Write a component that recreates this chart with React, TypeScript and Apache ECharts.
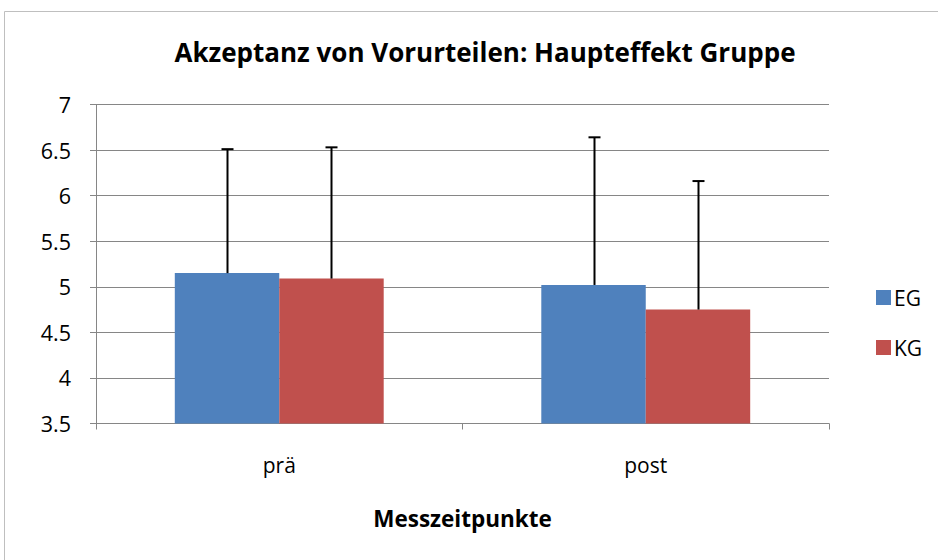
import React, { useEffect, useRef } from "react";
import * as echarts from "echarts";

const categories = ["prä", "post"];
const seriesNames = ["EG", "KG"];
const egMeans = [5.15, 5.02];
const kgMeans = [5.09, 4.75];
const egUpper = [6.51, 6.64];
const kgUpper = [6.53, 6.16];
const yTicks = [3.5, 4, 4.5, 5, 5.5, 6, 6.5, 7];

const COLORS = ["#4F81BD", "#C0504D"];
const BAR_CAT_GAP = 0.43;
const FONT = "'Open Sans', Lato, sans-serif";

export default function App() {
  const ref = useRef<HTMLDivElement>(null);
  useEffect(() => {
    document.body.style.margin = "0";
    if (!ref.current) return;
    const chart = echarts.init(ref.current, undefined, { renderer: "svg" });
    const means = [egMeans, kgMeans];
    const uppers = [egUpper, kgUpper];
    const errData: number[][] = [];
    for (let s = 0; s < 2; s++) {
      for (let c = 0; c < categories.length; c++) {
        errData.push([c, means[s][c], uppers[s][c], s]);
      }
    }
    chart.setOption({
      animation: false,
      textStyle: { fontFamily: FONT },
      graphic: [
        {
          type: "rect",
          shape: { x: 4.5, y: 11.5, width: 960, height: 600 },
          style: { fill: "none", stroke: "#BFBFBF", lineWidth: 1 },
          silent: true,
          z: -10,
        },
      ],
      title: {
        text: "Akzeptanz von Vorurteilen: Haupteffekt Gruppe",
        left: 480,
        textAlign: "center",
        top: 34,
        textStyle: { fontFamily: FONT, fontWeight: "bold", fontSize: 26, color: "#000" },
      },
      legend: {
        orient: "vertical",
        left: 871,
        top: 282,
        itemWidth: 15,
        itemHeight: 15,
        itemGap: 29,
        icon: "rect",
        data: seriesNames,
        textStyle: { fontFamily: FONT, fontSize: 21, lineHeight: 15, color: "#000", padding: [0, 0, 0, -2] },
      },
      grid: { left: 96, right: 109, top: 104.5, bottom: 136.5 },
      xAxis: {
        type: "category",
        data: categories,
        name: "Messzeitpunkte",
        nameLocation: "middle",
        nameGap: 83,
        nameTextStyle: { fontFamily: FONT, fontWeight: "bold", fontSize: 22.5, color: "#000" },
        axisLine: { lineStyle: { color: "#868686", width: 1 } },
        axisTick: { show: true, length: 6, lineStyle: { color: "#868686" } },
        axisLabel: { fontFamily: FONT, fontSize: 21, color: "#000", margin: 31 },
      },
      yAxis: {
        type: "value",
        min: 3.5,
        max: 7,
        interval: 0.5,
        axisLine: { show: true, lineStyle: { color: "#868686", width: 1 } },
        axisTick: { show: true, length: 6, lineStyle: { color: "#868686" } },
        axisLabel: {
          fontFamily: FONT,
          fontSize: 21.5,
          color: "#000",
          margin: 25,
          formatter: (v: number) => (yTicks.includes(v) ? String(v) : ""),
        },
        splitLine: { lineStyle: { color: "#868686", width: 1 } },
      },
      series: [
        {
          name: "EG",
          type: "bar",
          data: egMeans,
          itemStyle: { color: COLORS[0] },
          barGap: "0%",
          barCategoryGap: `${BAR_CAT_GAP * 100}%`,
        },
        {
          name: "KG",
          type: "bar",
          data: kgMeans,
          itemStyle: { color: COLORS[1] },
          barGap: "0%",
          barCategoryGap: `${BAR_CAT_GAP * 100}%`,
        },
        {
          type: "custom",
          data: errData,
          z: 10,
          renderItem: (params: any, api: any) => {
            const c = api.value(0);
            const s = api.value(3);
            const base = api.coord([c, api.value(1)]);
            const top = api.coord([c, api.value(2)]);
            const catW = api.size([1, 0])[0];
            const barW = (catW * (1 - BAR_CAT_GAP)) / 2;
            const x = Math.round(base[0] + (s === 0 ? -barW / 2 : barW / 2)) + 0.5;
            const capHalf = 6;
            const style = { stroke: "#000", lineWidth: 2 };
            return {
              type: "group",
              children: [
                { type: "line", shape: { x1: x, y1: base[1], x2: x, y2: top[1] }, style },
                { type: "line", shape: { x1: x - capHalf, y1: top[1], x2: x + capHalf, y2: top[1] }, style },
              ],
            };
          },
        },
      ],
    });
    return () => chart.dispose();
  }, []);
  return <div ref={ref} style={{ width: 938, height: 560 }} />;
}
